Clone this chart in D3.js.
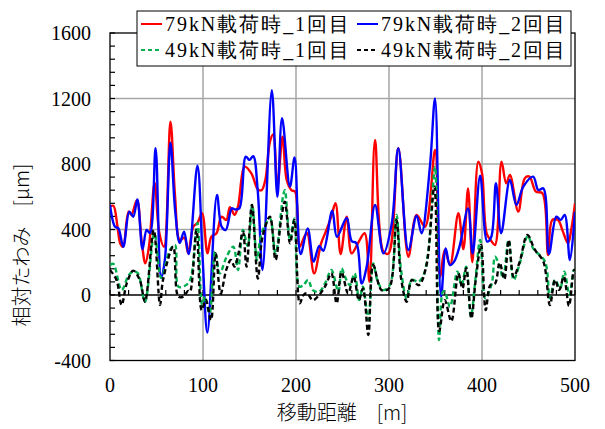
<!DOCTYPE html>
<html><head><meta charset="utf-8">
<script src="https://cdn.jsdelivr.net/npm/d3@7"></script>
<style>
body{margin:0;background:#fff;}
svg{display:block;}
.num{font-family:"Liberation Serif",Tinos,"Times New Roman",Times,serif;}
</style></head>
<body><svg id="c" width="605" height="429"></svg>
<script>
// ---- data: [distance m, deflection µm] ----
const seriesNames = ["79kN載荷時_1回目","79kN載荷時_2回目","49kN載荷時_1回目","49kN載荷時_2回目"];
const red79_1 = [[0,540],[3.6,545],[8,420],[11,315],[14,295],[20,509],[23,490],[29,580],[34,330],[38,193],[42,300],[48,684],[53,380],[58,295],[65,1058],[70,600],[75,336],[80,350],[84,256],[89.6,417],[94,440],[99,500],[104.8,254],[109,356],[114.5,377],[120,478],[125,458],[129,536],[134,489],[137.6,540],[145,784],[152,743],[159,645],[163,640],[167,702],[172,937],[175.5,980],[180,660],[185.5,967],[190,702],[195,641],[199,631],[204,295],[209,356],[212,377],[219.5,132],[227,315],[233,400],[238,480],[242.5,560],[248,250],[254.5,478],[259.8,254],[266.6,316],[273.8,377],[279,81],[285,947],[294,265],[299.5,254],[310,896],[320.8,234],[329.7,489],[338.7,417],[349.5,886],[354.8,112],[360,275],[365.6,183],[374.6,499],[380,280],[385,651],[389.6,200],[396,814],[400,743],[405,377],[410,330],[414,305],[421,814],[426,682],[430,733],[439,509],[446,713],[451,723],[458,631],[465,621],[471,244],[475.6,458],[481.7,458],[487,387],[492.5,316],[496,400],[500,560]];
const blue79_2 = [[0,550],[5.4,417],[9,407],[14.3,295],[20.8,509],[25,478],[29.4,584],[35,279],[39.4,397],[43,378],[49,896],[55,104],[59,214],[65,930],[70,520],[75,318],[79.6,387],[84.6,250],[94,790],[99.7,214],[104.7,-230],[115,611],[120,417],[124.4,397],[131,529],[134,523],[139,529],[146,845],[150,825],[154,848],[158.8,641],[164,153],[174,1250],[180,600],[185,1080],[193.5,662],[198.5,840],[205,250],[212.5,407],[219,204],[225,300],[229.4,270],[239,515],[244,356],[254.5,470],[259.8,330],[265,316],[270.6,70],[276,173],[285,550],[294,254],[303,438],[310,896],[320.8,275],[329.7,485],[335,377],[344,784],[349.5,1201],[356,-10],[361,285],[365.5,183],[370,204],[376,300],[385,529],[390,254],[398,728],[405.6,326],[410,356],[415,682],[420.6,377],[430,702],[437,550],[444.4,662],[455,723],[460.6,641],[466,651],[472,250],[480,478],[484.6,458],[488.9,489],[494.5,214],[500,509]];
const green49_1 = [[0,183],[3.6,190],[12.5,30],[20,120],[25,143],[30,132],[37.6,-41],[47.7,377],[55,105],[64.5,275],[69.9,305],[73.5,51],[80,55],[86,90],[94,440],[99,-60],[102,-10],[107,-112],[113,265],[118,132],[125.4,234],[132.6,295],[137.6,153],[143,397],[148,300],[153,550],[158,214],[162,356],[167,430],[172,468],[178,254],[186,600],[188,640],[193.6,336],[198.3,468],[203.6,51],[208,60],[213,92],[218,30],[225,20],[232,80],[238,153],[245.6,20],[249,163],[252.7,112],[258,60],[263,132],[268,-31],[272,50],[277.8,-153],[283,193],[288,80],[294,30],[301,61],[308,489],[313,150],[319,-20],[324.5,92],[331.6,81],[337,120],[342,254],[349.5,784],[353.8,-275],[358,20],[360,20],[365.6,-71],[373.5,143],[378,60],[383,173],[388,-130],[393,100],[398,336],[403.6,-20],[410.6,71],[414,234],[419,173],[422.6,102],[428.7,336],[434,92],[440.6,193],[449.2,360],[455,285],[467.7,204],[473,-20],[478.5,92],[484,41],[488.5,143],[494,0],[499,153],[500,150]];
const black49_2 = [[0,153],[7,92],[12.5,-61],[18,71],[25,149],[32,92],[37.6,-41],[47,397],[53.8,-61],[57,92],[68,295],[73.5,-10],[78.9,-10],[84,25],[86,20],[93,397],[98.6,-92],[103,-30],[108.6,-153],[113.6,254],[119,10],[125,153],[130,214],[134,173],[138,250],[143,387],[146.8,173],[152.6,550],[159,100],[164,356],[172,478],[178,214],[184,458],[188,570],[193.6,316],[198.3,458],[204,-51],[208,0],[212,10],[218,-31],[225,0],[232,60],[238,132],[243.7,-51],[249,140],[256,10],[262,112],[267.6,-31],[272,40],[277.8,-244],[283,183],[292,30],[300,40],[308,458],[313,100],[319,-41],[324.5,92],[332,60],[340,173],[348.8,662],[354,-220],[360,-31],[367,-160],[374.6,132],[379,40],[383,163],[388.6,-143],[393,80],[399,305],[404,-92],[409,61],[414,70],[419,197],[424,96],[428.7,336],[434,112],[440.6,204],[448.7,366],[457,275],[466,204],[473,-61],[478.5,92],[483,31],[488,112],[493.5,-67],[499,153],[500,150]];
const xTicks = [0,100,200,300,400,500];
const yTicks = [-400,0,400,800,1200,1600];
const xTitle = "移動距離　[m]";
const yTitle = "相対たわみ　[µm]";

const SANS = "'Noto Sans CJK JP',sans-serif";

const svg = d3.select("#c");
const x = d3.scaleLinear().domain([0,500]).range([110,575]);
const y = d3.scaleLinear().domain([-400,1600]).range([360.5,33]);

// grid
const g = svg.append("g");
g.selectAll(".vg").data(xTicks.filter(d=>d>0&&d<500)).enter().append("line")
  .attr("x1",d=>x(d)).attr("x2",d=>x(d)).attr("y1",y(1600)).attr("y2",y(-400))
  .attr("stroke","#a6a6a6").attr("stroke-width",1.5);
g.selectAll(".hg").data(yTicks.filter(d=>d>0&&d<1600)).enter().append("line")
  .attr("x1",x(0)).attr("x2",x(500)).attr("y1",d=>y(d)).attr("y2",d=>y(d))
  .attr("stroke","#a6a6a6").attr("stroke-width",1.5);

// plot border
svg.append("rect").attr("x",x(0)).attr("y",y(1600)).attr("width",x(500)-x(0)).attr("height",y(-400)-y(1600))
  .attr("fill","none").attr("stroke","#000").attr("stroke-width",1.3);

// y ticks (inside), every 80
svg.selectAll(".yt").data(d3.range(-400,1601,80)).enter().append("line")
  .attr("x1",x(0)).attr("x2",x(0)+5).attr("y1",d=>y(d)).attr("y2",d=>y(d))
  .attr("stroke","#000").attr("stroke-width",1.2);

// zero axis line with ticks every 20
svg.append("line").attr("x1",x(0)).attr("x2",x(500)).attr("y1",y(0)).attr("y2",y(0))
  .attr("stroke","#000").attr("stroke-width",1.5);
svg.selectAll(".xt").data(d3.range(0,501,20)).enter().append("line")
  .attr("x1",d=>x(d)).attr("x2",d=>x(d)).attr("y1",y(0)).attr("y2",y(0)-5)
  .attr("stroke","#000").attr("stroke-width",1.2);

// tick labels
svg.selectAll(".yl").data(yTicks).enter().append("text").attr("class","num")
  .attr("x",91).attr("y",d=>y(d)+7).attr("text-anchor","end")
  .attr("font-size",20).text(d=>d);
svg.selectAll(".xl").data(xTicks).enter().append("text").attr("class","num")
  .attr("x",d=>x(d)).attr("y",392).attr("text-anchor","middle")
  .attr("font-size",20).text(d=>d);

// titles
svg.append("text").attr("x",342).attr("y",420).attr("text-anchor","middle")
  .attr("font-size",20).attr("font-family",SANS).attr("font-weight",300).text(xTitle);
svg.append("text").attr("transform","translate(29,245) rotate(-90)").attr("text-anchor","middle")
  .attr("font-size",20).attr("font-family",SANS).attr("font-weight",300).text(yTitle);

// series
svg.append("clipPath").attr("id","pc").append("rect")
  .attr("x",x(0)).attr("y",y(1600)).attr("width",x(500)-x(0)).attr("height",y(-400)-y(1600));
const line = d3.line().x(d=>x(d[0])).y(d=>y(d[1])).curve(d3.curveCatmullRom.alpha(0.5));
const styles = [
  {data:red79_1, color:"#ff0000", dash:null},
  {data:blue79_2, color:"#0000ff", dash:null},
  {data:green49_1, color:"#00b050", dash:"5,3"},
  {data:black49_2, color:"#000000", dash:"5,3"}
];
const pg = svg.append("g").attr("clip-path","url(#pc)");
styles.forEach(s=>{
  pg.append("path").datum(s.data).attr("d",line).attr("fill","none")
    .attr("stroke",s.color).attr("stroke-width",2.4).attr("stroke-dasharray",s.dash)
    .attr("stroke-linejoin","round");
});

// legend
const lg = svg.append("g");
lg.append("rect").attr("x",137).attr("y",11).attr("width",434).attr("height",55)
  .attr("fill","#fff").attr("stroke","#000").attr("stroke-width",1);
const pos = [[141,24],[357,24],[141,50],[357,50]];
styles.forEach((s,i)=>{
  const [lx,ly] = pos[i];
  lg.append("line").attr("x1",lx).attr("x2",lx+21).attr("y1",ly).attr("y2",ly)
    .attr("stroke",s.color).attr("stroke-width",2).attr("stroke-dasharray",s.dash?"4,3":null);
  lg.append("text").attr("class","num").attr("x",lx+24).attr("y",ly+7).attr("font-size",20)
    .attr("textLength",184).attr("lengthAdjust","spacing")
    .text(seriesNames[i]);
});
</script></body></html>
